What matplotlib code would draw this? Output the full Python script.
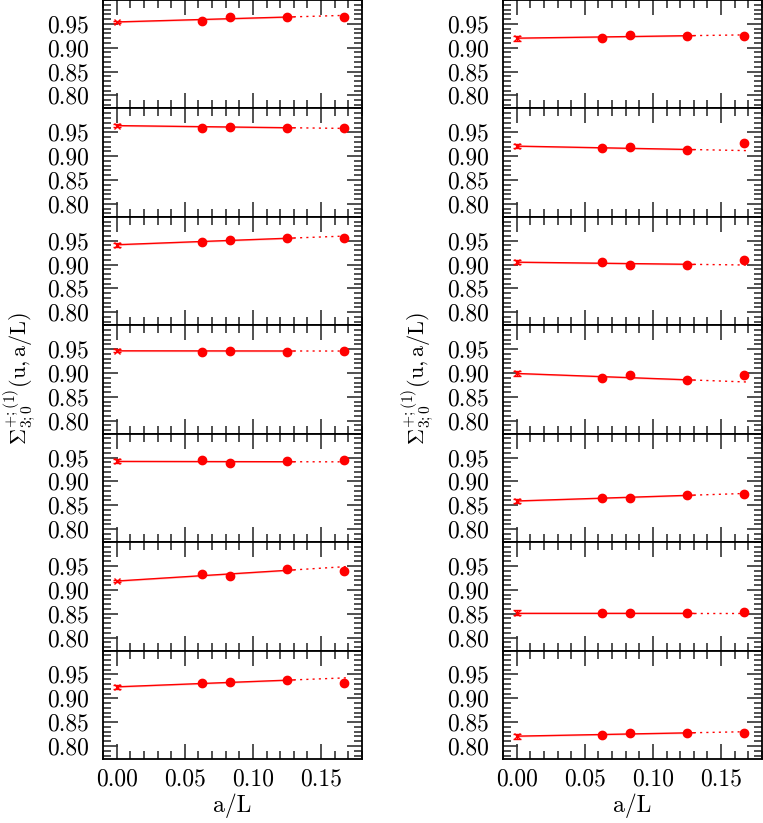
import numpy as np
import matplotlib
matplotlib.use("Agg")
import matplotlib.pyplot as plt
from matplotlib.ticker import MultipleLocator, FixedLocator

plt.rcParams['font.family'] = ['cmr10', 'DejaVu Serif']
plt.rcParams['mathtext.fontset'] = 'cm'
plt.rcParams['axes.formatter.use_mathtext'] = True

# lattice spacings a/L  (L = 16, 12, 8, 6)
aL = [1/16, 1/12, 1/8, 1/6]

# left column, top -> bottom
left_pts = [
    [0.955, 0.964, 0.965, 0.965],
    [0.958, 0.962, 0.958, 0.959],
    [0.948, 0.951, 0.955, 0.955],
    [0.944, 0.9465, 0.944, 0.9465],
    [0.944, 0.938, 0.942, 0.944],
    [0.934, 0.928, 0.944, 0.9395],
    [0.931, 0.934, 0.938, 0.931],
]
left_cont = [0.954, 0.964, 0.9416, 0.9465, 0.942, 0.9185, 0.924]
left_err = [0.003, 0.003, 0.004, 0.003, 0.004, 0.003, 0.004]
left_end = [0.968, 0.958, 0.960, 0.946, 0.941, 0.949, 0.943]   # fit at a/L = 0.17

# right column, top -> bottom
right_pts = [
    [0.9206, 0.926, 0.9255, 0.9255],
    [0.916, 0.9185, 0.913, 0.927],
    [0.9045, 0.900, 0.900, 0.909],
    [0.8885, 0.8955, 0.885, 0.8948],
    [0.866, 0.8654, 0.8717, 0.8745],
    [0.8514, 0.852, 0.852, 0.853],
    [0.8234, 0.8262, 0.8276, 0.8276],
]
right_cont = [0.920, 0.921, 0.905, 0.899, 0.859, 0.852, 0.8206]
right_err = [0.005, 0.005, 0.004, 0.005, 0.005, 0.005, 0.005]
right_end = [0.927, 0.9115, 0.899, 0.881, 0.875, 0.852, 0.830]

x_solid_end = 0.13
x_fit_end = 0.17

W, H = 763, 823
fig = plt.figure(figsize=(W/100, H/100), dpi=100)

nrow = 7
bot_px = 759
ph = bot_px / nrow

def panel(x0_px, row, pts, cont, err, end, bottom):
    ax = fig.add_axes([x0_px / W, (H - bot_px + (nrow - 1 - row) * ph) / H, 259 / W, ph / H])
    ax.set_xlim(-0.01, 0.18)
    ax.set_ylim(0.7727, 1.0)
    # fit line
    slope = (end - cont) / x_fit_end
    xs = np.linspace(0, x_solid_end, 20)
    ax.fill_between(xs, cont + slope * xs - 0.0018, cont + slope * xs + 0.0018,
                    color='#ff8080', alpha=0.45, lw=0)
    ax.plot(xs, cont + slope * xs, color='red', lw=1.0)
    xd = np.array([x_solid_end, x_fit_end])
    ax.plot(xd, cont + slope * xd, color='red', lw=1.0, ls=(0, (1.5, 3)))
    ax.plot(aL, pts, 'o', color='red', ms=6, mec='red')
    ax.errorbar([0], [cont], yerr=[err], fmt='x', color='red', ms=4,
                capsize=3, elinewidth=1, capthick=1, mew=1)
    ax.xaxis.set_major_locator(MultipleLocator(0.05))
    ax.xaxis.set_minor_locator(MultipleLocator(0.01))
    ax.yaxis.set_major_locator(FixedLocator([0.80, 0.85, 0.90, 0.95]))
    ax.yaxis.set_minor_locator(MultipleLocator(0.01))
    ax.tick_params(which='both', direction='in', top=True, right=True,
                   color='#333333', width=1.2)
    ax.tick_params(which='major', length=11, labelsize=17)
    ax.tick_params(which='minor', length=6)
    ax.tick_params(axis='y', which='major', pad=10)
    ax.tick_params(axis='x', which='major', pad=7)
    ax.yaxis.set_major_formatter(plt.FuncFormatter(lambda v, p: f"{v:.2f}"))
    ax.xaxis.set_major_formatter(plt.FuncFormatter(lambda v, p: f"{v:.2f}"))
    for s in ax.spines.values():
        s.set_linewidth(1.3)
    if bottom:
        ax.set_xlabel('a/L', fontsize=17, labelpad=2)
    else:
        ax.tick_params(axis='x', labelbottom=False)
    return ax

for r in range(nrow):
    panel(103, r, left_pts[r], left_cont[r], left_err[r], left_end[r], r == nrow - 1)
    panel(503, r, right_pts[r], right_cont[r], right_err[r], right_end[r], r == nrow - 1)

ylab = r'$\Sigma^{+;(1)}_{3;0}(\mathrm{u,a/L})$'
fig.text(2 / W, 0.54, ylab, rotation=90, ha='left', va='center', fontsize=16)
fig.text(400 / W, 0.54, ylab, rotation=90, ha='left', va='center', fontsize=16)

fig.savefig('out.png', dpi=100)
